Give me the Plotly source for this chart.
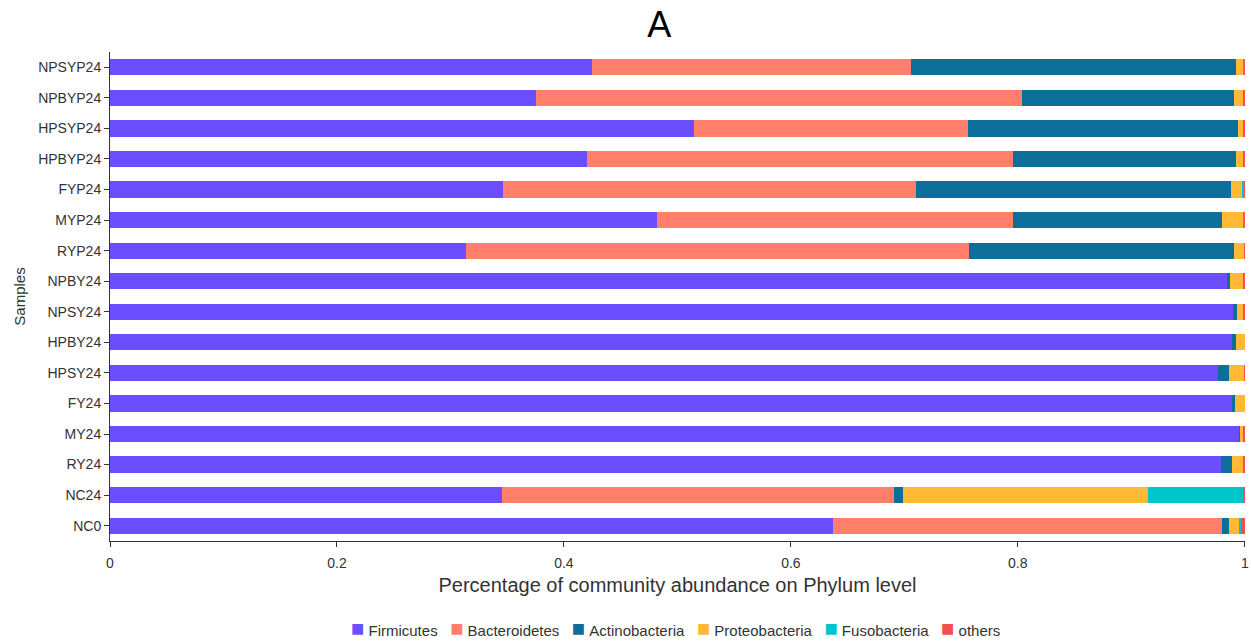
import plotly.graph_objects as go

samples = ["NPSYP24", "NPBYP24", "HPSYP24", "HPBYP24", "FYP24", "MYP24", "RYP24",
           "NPBY24", "NPSY24", "HPBY24", "HPSY24", "FY24", "MY24", "RY24", "NC24", "NC0"]

firmicutes =      [0.425, 0.375, 0.5145, 0.420, 0.346, 0.482, 0.314, 0.984, 0.990, 0.989, 0.9765, 0.989, 0.995, 0.979, 0.345, 0.637]
bacteroidetes =   [0.281, 0.4285, 0.2415, 0.3756, 0.364, 0.3136, 0.443, 0.0, 0.0, 0.0, 0.0, 0.0, 0.0, 0.0, 0.346, 0.343]
actinobacteria =  [0.286, 0.187, 0.2382, 0.1964, 0.278, 0.1844, 0.2335, 0.003, 0.003, 0.0035, 0.0095, 0.0025, 0.001, 0.0095, 0.008, 0.006]
proteobacteria =  [0.0065, 0.0085, 0.0045, 0.007, 0.010, 0.0185, 0.009, 0.012, 0.006, 0.0075, 0.0135, 0.0085, 0.0025, 0.0105, 0.216, 0.0096]
fusobacteria =    [0.001, 0.0, 0.0003, 0.0, 0.0015, 0.001, 0.0, 0.0, 0.0, 0.0, 0.0, 0.0, 0.0003, 0.0, 0.0835, 0.0014]
others =          [0.0005, 0.001, 0.001, 0.001, 0.0005, 0.0005, 0.0005, 0.001, 0.001, 0.0, 0.0005, 0.0, 0.0012, 0.001, 0.0015, 0.003]

series_names = ["Firmicutes", "Bacteroidetes", "Actinobacteria", "Proteobacteria", "Fusobacteria", "others"]
series_values = [firmicutes, bacteroidetes, actinobacteria, proteobacteria, fusobacteria, others]
colors = ["#6B4EFF", "#FF7F6B", "#0E6E9A", "#FFB935", "#00C5CB", "#F24F4F"]

x_ticks = [0, 0.2, 0.4, 0.6, 0.8, 1]
x_tick_text = ["0", "0.2", "0.4", "0.6", "0.8", "1"]

FONT = "Liberation Sans, Arial, sans-serif"

fig = go.Figure()
for name, vals, col in zip(series_names, series_values, colors):
    fig.add_trace(go.Bar(
        y=samples, x=vals, name=name, orientation="h",
        marker=dict(color=col, line=dict(width=0)),
        showlegend=False,
    ))

# Legend drawn as a single text line (colored squares + names)
legend_text = "&nbsp;&nbsp;&nbsp;".join(
    f"<span style='color:{c};font-size:22px'>■</span>&nbsp;{n}"
    for n, c in zip(series_names, colors)
)
fig.add_annotation(text=legend_text, xref="paper", yref="paper", x=0.498, y=-0.178,
                   xanchor="center", yanchor="middle", showarrow=False,
                   font=dict(size=15, color="#333333", family=FONT))

fig.update_layout(
    barmode="stack",
    bargap=0.47,
    width=1251, height=641,
    paper_bgcolor="white", plot_bgcolor="white",
    margin=dict(l=110, r=6, t=52, b=100),
    font=dict(family=FONT, color="#333333", size=14),
    title=dict(text="A", x=0.527, xanchor="center", y=0.9625, yanchor="middle",
               font=dict(size=36, color="#000000", family=FONT)),
    xaxis=dict(range=[0, 1.0002], tickvals=x_ticks, ticktext=x_tick_text, automargin=False,
               showgrid=False, zeroline=False, showline=True, linecolor="#333333", linewidth=1,
               ticks="outside", ticklen=5, tickcolor="#333333", ticklabelstandoff=4,
               tickfont=dict(size=14, color="#333333"),
               title=dict(text="Percentage of community abundance on Phylum level",
                          font=dict(size=20, color="#333333"), standoff=8)),
    yaxis=dict(autorange="reversed", showgrid=False, zeroline=False, automargin=False,
               showline=True, linecolor="#333333", linewidth=1,
               ticks="outside", ticklen=5, tickcolor="#333333",
               tickfont=dict(size=14, color="#333333"),
               title=dict(text="Samples", font=dict(size=15, color="#333333"), standoff=8)),
)

fig.write_html("out.html", config={"displayModeBar": False},
               post_script="document.body.style.margin='0';document.body.style.overflow='hidden';")
